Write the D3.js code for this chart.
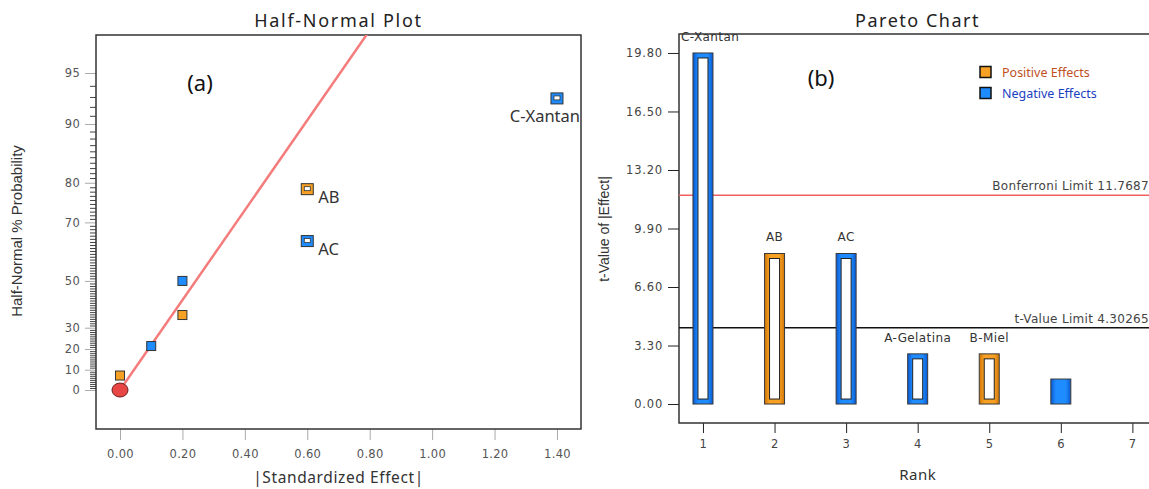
<!DOCTYPE html>
<html>
<head>
<meta charset="utf-8">
<script src="https://cdn.jsdelivr.net/npm/d3@7"></script>
<style>
  body { margin: 0; background: #fff; }
  svg { display: block; }
</style>
</head>
<body>
<div id="chart-area"></div>
<script>
/*
*    half-normal + pareto
*/

const width = 1149;
const height = 489;

// Half-normal plot data
const hnEffect = [0.00, 0.10, 0.20, 0.20, 0.60, 0.60, 1.40];
const hnProb = [7.14, 21.43, 35.71, 50.00, 64.29, 78.57, 92.86];
const hnSign = ["pos", "neg", "pos", "neg", "neg", "pos", "neg"];
const hnTerm = ["", "", "", "", "AC", "AB", "C-Xantan"];
const hnXTicks = [0, 0.2, 0.4, 0.6, 0.8, 1.0, 1.2, 1.4];
const hnYTicks = [0, 10, 20, 30, 50, 70, 80, 90, 95];
const errorPoint = {effect: 0, prob: 0};
const fitSlope = 2.78; // z per unit of effect

// Pareto chart data
const ranks = [1, 2, 3, 4, 5, 6, 7];
const paretoTerm = ["C-Xantan", "AB", "AC", "A-Gelatina", "B-Miel", "", ""];
const tValue = [19.80, 8.49, 8.49, 2.83, 2.83, 1.41, 0];
const paretoSign = ["neg", "pos", "neg", "neg", "pos", "neg", "pos"];
const inModel = [true, true, true, true, true, false, false];
const paretoYTicks = [0, 3.3, 6.6, 9.9, 13.2, 16.5, 19.8];
const bonferroni = 11.7687;
const tLimit = 4.30265;

const colors = {pos: "#f7a124", neg: "#1e8cff"};
const edge = {pos: "#d07508", neg: "#0a58d0"};

// inverse normal cdf (Acklam)
function probit(p) {
    const a = [-39.69683028665376, 220.9460984245205, -275.9285104469687, 138.3577518672690, -30.66479806614716, 2.506628277459239];
    const b = [-54.47609879822406, 161.5858368580409, -155.6989798598866, 66.80131188771972, -13.28068155288572];
    const c = [-0.007784894002430293, -0.3223964580411365, -2.400758277161838, -2.549732539343734, 4.374664141464968, 2.938163982698783];
    const d = [0.007784695709041462, 0.3224671290700398, 2.445134137142996, 3.754408661907416];
    const pl = 0.02425;
    let q, r;
    if (p < pl) {
        q = Math.sqrt(-2 * Math.log(p));
        return (((((c[0]*q+c[1])*q+c[2])*q+c[3])*q+c[4])*q+c[5]) / ((((d[0]*q+d[1])*q+d[2])*q+d[3])*q+1);
    } else if (p <= 1 - pl) {
        q = p - 0.5; r = q * q;
        return (((((a[0]*r+a[1])*r+a[2])*r+a[3])*r+a[4])*r+a[5])*q / (((((b[0]*r+b[1])*r+b[2])*r+b[3])*r+b[4])*r+1);
    }
    q = Math.sqrt(-2 * Math.log(1 - p));
    return -(((((c[0]*q+c[1])*q+c[2])*q+c[3])*q+c[4])*q+c[5]) / ((((d[0]*q+d[1])*q+d[2])*q+d[3])*q+1);
}
// half-normal % probability -> z
const zOf = pct => probit(0.5 + pct / 200);

const svg = d3.select("#chart-area")
    .append("svg")
    .attr("width", width)
    .attr("height", height);

svg.append("rect")
    .attr("width", "100%")
    .attr("height", "100%")
    .attr("fill", "white");

const defs = svg.append("defs");
["pos", "neg"].forEach(k => {
    const gr = defs.append("linearGradient").attr("id", "grad-" + k);
    gr.append("stop").attr("offset", "0%").attr("stop-color", edge[k]);
    gr.append("stop").attr("offset", "25%").attr("stop-color", colors[k]);
    gr.append("stop").attr("offset", "75%").attr("stop-color", colors[k]);
    gr.append("stop").attr("offset", "100%").attr("stop-color", edge[k]);
});

const tickFont = "'DejaVu Sans', Verdana, sans-serif";
const titleFont = "'Noto Sans', 'Open Sans', sans-serif";

// ---------------- Half-normal plot ----------------
const hn = {left: 96, right: 581, top: 35, bottom: 429};

const x1 = d3.scaleLinear()
    .domain([-0.0769, 1.477])
    .range([hn.left, hn.right]);

const y1 = d3.scaleLinear()
    .domain([-0.241, 2.195])
    .range([hn.bottom, hn.top]);

defs.append("clipPath").attr("id", "clip-hn")
    .append("rect")
    .attr("x", hn.left).attr("y", hn.top)
    .attr("width", hn.right - hn.left).attr("height", hn.bottom - hn.top);

svg.append("text")
    .attr("x", (hn.left + hn.right) / 2)
    .attr("y", 27)
    .attr("text-anchor", "middle")
    .attr("font-family", titleFont)
    .attr("font-size", "18px")
    .attr("letter-spacing", "1.7px")
    .attr("fill", "#222")
    .text("Half-Normal Plot");

// minor ticks on probability axis
const minorPct = d3.range(1, 95).filter(p => !hnYTicks.includes(p));
const minorAxis = d3.axisLeft(y1)
    .tickValues(minorPct.map(zOf))
    .tickSize(6)
    .tickFormat("");
svg.append("g")
    .attr("class", "hn-minor")
    .attr("transform", "translate(" + hn.left + ",0)")
    .call(minorAxis);

const leftAxis = d3.axisLeft(y1)
    .tickValues(hnYTicks.map(zOf))
    .tickSize(11)
    .tickPadding(5)
    .tickFormat((d, i) => hnYTicks[i]);
svg.append("g")
    .attr("class", "hn-y")
    .attr("transform", "translate(" + hn.left + ",0)")
    .call(leftAxis);

const bottomAxis = d3.axisBottom(x1)
    .tickValues(hnXTicks)
    .tickSize(11)
    .tickPadding(10)
    .tickFormat(d3.format(".2f"));
svg.append("g")
    .attr("class", "hn-x")
    .attr("transform", "translate(0," + hn.bottom + ")")
    .call(bottomAxis);

svg.selectAll(".hn-minor path, .hn-y path, .hn-x path").remove();
svg.selectAll(".hn-y line, .hn-x line").attr("stroke", "#aaa");
svg.selectAll(".hn-minor line").attr("stroke", "#444");
svg.selectAll(".hn-y text, .hn-x text")
    .attr("font-family", tickFont)
    .attr("font-size", "11.5px")
    .attr("letter-spacing", "0.3px")
    .attr("fill", "#555");

// frame
svg.append("rect")
    .attr("x", hn.left).attr("y", hn.top)
    .attr("width", hn.right - hn.left).attr("height", hn.bottom - hn.top)
    .attr("fill", "none")
    .attr("stroke", "#333")
    .attr("stroke-width", 1.5);

// axis labels
svg.append("text")
    .attr("transform", "translate(22," + 231 + ") rotate(-90)")
    .attr("text-anchor", "middle")
    .attr("font-family", "'Liberation Sans', Arial, sans-serif")
    .attr("font-size", "15px")
    .attr("fill", "#333")
    .text("Half-Normal % Probability");

svg.append("text")
    .attr("x", (hn.left + hn.right) / 2)
    .attr("y", 483)
    .attr("text-anchor", "middle")
    .attr("font-family", titleFont)
    .attr("font-size", "15.5px")
    .attr("letter-spacing", "0.6px")
    .attr("fill", "#333")
    .text("|Standardized Effect|");

svg.append("text")
    .attr("x", 200)
    .attr("y", 91)
    .attr("text-anchor", "middle")
    .attr("font-family", titleFont)
    .attr("font-size", "22px")
    .attr("fill", "#111")
    .text("(a)");

const hnG = svg.append("g").attr("clip-path", "url(#clip-hn)");

// fitted line
hnG.append("line")
    .attr("x1", x1(0)).attr("y1", y1(0))
    .attr("x2", x1(1.0)).attr("y2", y1(fitSlope * 1.0))
    .attr("stroke", "#f47c7c")
    .attr("stroke-width", 2.5);

// error point
hnG.append("ellipse")
    .attr("cx", x1(errorPoint.effect))
    .attr("cy", y1(zOf(errorPoint.prob)))
    .attr("rx", 8).attr("ry", 7)
    .attr("fill", "#e84545")
    .attr("stroke", "#6a2020")
    .attr("stroke-width", 1);

const hnData = hnEffect.map((e, i) => ({effect: e, prob: hnProb[i], sign: hnSign[i], term: hnTerm[i]}));

// plain effects
hnG.selectAll("rect.plain")
    .data(hnData.filter(d => d.term === ""))
    .enter().append("rect")
    .attr("class", "plain")
    .attr("x", d => x1(d.effect) - 4.5)
    .attr("y", d => y1(zOf(d.prob)) - 4.5)
    .attr("width", 9).attr("height", 9)
    .attr("fill", d => colors[d.sign])
    .attr("stroke", "#333")
    .attr("stroke-width", 1);

// selected (model) effects
const sel = hnG.selectAll("g.sel")
    .data(hnData.filter(d => d.term !== ""))
    .enter().append("g")
    .attr("class", "sel")
    .attr("transform", d => "translate(" + x1(d.effect) + "," + y1(zOf(d.prob)) + ")");

sel.append("rect")
    .attr("x", -6).attr("y", -5.5)
    .attr("width", 12).attr("height", 11)
    .attr("fill", d => colors[d.sign])
    .attr("stroke", "#333")
    .attr("stroke-width", 1);

sel.append("rect")
    .attr("x", -3).attr("y", -2.5)
    .attr("width", 6).attr("height", 4)
    .attr("fill", "white")
    .attr("stroke", "#333")
    .attr("stroke-width", 0.8);

svg.selectAll("text.hn-term")
    .data(hnData.filter(d => d.term !== ""))
    .enter().append("text")
    .attr("class", "hn-term")
    .attr("font-family", titleFont)
    .attr("font-size", "16.5px")
    .attr("fill", "#333")
    .text(d => d.term)
    .each(function(d) {
        const px = x1(d.effect), py = y1(zOf(d.prob));
        const w = this.getComputedTextLength();
        if (px + 11 + w > hn.right) {
            d3.select(this).attr("x", hn.right - 1).attr("y", py + 24).attr("text-anchor", "end");
        } else {
            d3.select(this).attr("x", px + 11).attr("y", py + 14);
        }
    });

// ---------------- Pareto chart ----------------
const pa = {left: 679, right: 1156, top: 34, bottom: 423};

const x2 = d3.scaleLinear()
    .domain([0.665, 7.33])
    .range([pa.left, pa.right]);

const y2 = d3.scaleLinear()
    .domain([-1.07, 20.87])
    .range([pa.bottom, pa.top]);

svg.append("text")
    .attr("x", (pa.left + pa.right) / 2)
    .attr("y", 27)
    .attr("text-anchor", "middle")
    .attr("font-family", titleFont)
    .attr("font-size", "18px")
    .attr("letter-spacing", "1.5px")
    .attr("fill", "#222")
    .text("Pareto Chart");

const pLeftAxis = d3.axisLeft(y2)
    .tickValues(paretoYTicks)
    .tickSize(11)
    .tickPadding(5)
    .tickFormat(d3.format(".2f"));
svg.append("g")
    .attr("class", "pa-y")
    .attr("transform", "translate(" + pa.left + ",0)")
    .call(pLeftAxis);

const pBottomAxis = d3.axisBottom(x2)
    .tickValues(ranks)
    .tickSize(10)
    .tickPadding(7)
    .tickFormat(d3.format("d"));
svg.append("g")
    .attr("class", "pa-x")
    .attr("transform", "translate(0," + pa.bottom + ")")
    .call(pBottomAxis);

svg.selectAll(".pa-y path, .pa-x path").remove();
svg.selectAll(".pa-y line, .pa-x line").attr("stroke", "#222");
svg.selectAll(".pa-y text, .pa-x text")
    .attr("font-family", tickFont)
    .attr("font-size", "11.5px")
    .attr("letter-spacing", "0.8px")
    .attr("fill", "#444");

// frame (left, top, bottom)
svg.append("path")
    .attr("d", "M" + pa.right + "," + pa.top + "H" + pa.left + "V" + pa.bottom + "H" + pa.right)
    .attr("fill", "none")
    .attr("stroke", "#333")
    .attr("stroke-width", 1.5);

svg.append("text")
    .attr("transform", "translate(609,229) rotate(-90)")
    .attr("text-anchor", "middle")
    .attr("font-family", "'Liberation Sans', Arial, sans-serif")
    .attr("font-size", "14px")
    .attr("fill", "#333")
    .text("t-Value of |Effect|");

svg.append("text")
    .attr("x", x2(4))
    .attr("y", 480)
    .attr("text-anchor", "middle")
    .attr("font-family", titleFont)
    .attr("font-size", "15px")
    .attr("letter-spacing", "0.5px")
    .attr("fill", "#333")
    .text("Rank");

svg.append("text")
    .attr("x", 821)
    .attr("y", 86)
    .attr("text-anchor", "middle")
    .attr("font-family", titleFont)
    .attr("font-size", "22px")
    .attr("fill", "#111")
    .text("(b)");

// limit lines
svg.append("line")
    .attr("x1", pa.left).attr("x2", pa.right)
    .attr("y1", y2(bonferroni)).attr("y2", y2(bonferroni))
    .attr("stroke", "#f06060")
    .attr("stroke-width", 1.5);

svg.append("line")
    .attr("x1", pa.left).attr("x2", pa.right)
    .attr("y1", y2(tLimit)).attr("y2", y2(tLimit))
    .attr("stroke", "#111")
    .attr("stroke-width", 1.5);

svg.append("text")
    .attr("x", 1149)
    .attr("y", y2(bonferroni) - 5)
    .attr("text-anchor", "end")
    .attr("font-family", tickFont)
    .attr("font-size", "12px")
    .attr("letter-spacing", "0.3px")
    .attr("fill", "#444")
    .text("Bonferroni Limit " + bonferroni);

svg.append("text")
    .attr("x", 1149)
    .attr("y", y2(tLimit) - 5)
    .attr("text-anchor", "end")
    .attr("font-family", tickFont)
    .attr("font-size", "12px")
    .attr("letter-spacing", "0.3px")
    .attr("fill", "#444")
    .text("t-Value Limit " + tLimit);

// bars
const paData = ranks.map((r, i) => ({rank: r, t: tValue[i], sign: paretoSign[i], term: paretoTerm[i], model: inModel[i]}))
    .filter(d => d.t > 0);

const barW = 20;
const bars = svg.selectAll("g.bar")
    .data(paData)
    .enter().append("g")
    .attr("class", "bar");

bars.append("rect")
    .attr("x", d => x2(d.rank) - barW / 2)
    .attr("y", d => y2(d.t))
    .attr("width", barW)
    .attr("height", d => y2(0) - y2(d.t))
    .attr("fill", d => "url(#grad-" + d.sign + ")")
    .attr("stroke", "#3a3a3a")
    .attr("stroke-width", 1);

bars.filter(d => d.model).append("rect")
    .attr("x", d => x2(d.rank) - barW / 2 + 5)
    .attr("y", d => y2(d.t) + 5)
    .attr("width", barW - 10)
    .attr("height", d => y2(0) - y2(d.t) - 10)
    .attr("fill", "white")
    .attr("stroke", "#222")
    .attr("stroke-width", 1);

svg.selectAll("text.pa-term")
    .data(paData.filter(d => d.term !== ""))
    .enter().append("text")
    .attr("class", "pa-term")
    .attr("y", d => y2(d.t) - 12)
    .attr("text-anchor", "start")
    .attr("font-family", tickFont)
    .attr("font-size", "12px")
    .attr("letter-spacing", "0.4px")
    .attr("fill", "#333")
    .text(d => d.term)
    .each(function(d) {
        const w = this.getComputedTextLength();
        d3.select(this).attr("x", Math.max(pa.left + 2, x2(d.rank) - w / 2));
    });

// legend
const legendKeys = ["pos", "neg"];
const legendText = {pos: "Positive Effects", neg: "Negative Effects"};
const legendColor = {pos: "#c0501e", neg: "#1c3fc0"};
const legend = svg.selectAll("g.legend")
    .data(legendKeys)
    .enter().append("g")
    .attr("class", "legend")
    .attr("transform", (d, i) => "translate(980," + (66.5 + i * 21) + ")");

legend.append("rect")
    .attr("width", 11).attr("height", 11)
    .attr("fill", d => colors[d])
    .attr("stroke", "#111")
    .attr("stroke-width", 1.5);

legend.append("text")
    .attr("x", 22)
    .attr("y", 10)
    .attr("font-family", titleFont)
    .attr("font-size", "12.5px")
    .attr("fill", d => legendColor[d])
    .text(d => legendText[d]);
</script>
</body>
</html>
